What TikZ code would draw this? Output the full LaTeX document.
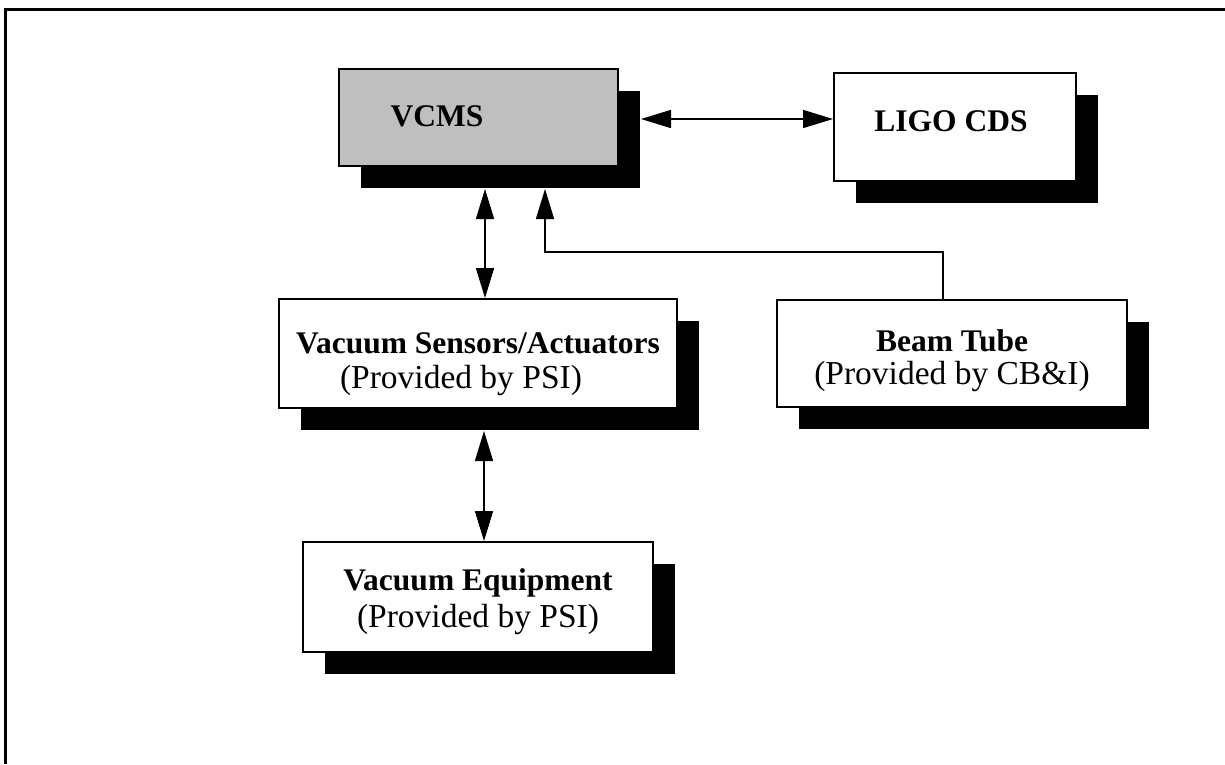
\documentclass[tikz,border=0pt]{standalone}
\usepackage{fontspec}
\setmainfont{Liberation Serif}
\usetikzlibrary{arrows.meta,shadows}
\tikzset{bigtri/.tip={Triangle[length=30pt,width=18pt]}}
\begin{document}
\begin{tikzpicture}[x=1pt,y=-1pt,
  box/.style={draw=black,line width=2pt,fill=white,inner sep=0pt,
    general shadow={fill=black,shadow xshift=22pt,shadow yshift=-22pt}},
  txt/.style={inner sep=0pt,align=center,font=\fontsize{33.5}{35}\selectfont},
  bfnt/.style={font=\fontsize{31.5}{35}\selectfont\bfseries},
  conn/.style={line width=1.6pt}]
\useasboundingbox (0,0) rectangle (1225,764);
% frame
\draw[line width=3pt] (5,764) -- (5,9.5) -- (1225,9.5);
% boxes
\node[box,fill=black!25,minimum width=279pt,minimum height=97pt] (vcms) at (478.5,117.5) {};
\node[box,minimum width=242pt,minimum height=108pt] (ligo) at (955,127) {};
\node[box,minimum width=398pt,minimum height=109pt] (sens) at (478,353.5) {};
\node[box,minimum width=350pt,minimum height=107pt] (bt) at (952,353.5) {};
\node[box,minimum width=350pt,minimum height=110pt] (equip) at (478,597) {};
% texts (shifts in picture units: positive y is downward)
\node[txt,bfnt] (vcmsT) at ([shift={(-41.5,-1)}]vcms.center) {VCMS};
\node[txt,bfnt] (ligoT) at ([shift={(-4,-6)}]ligo.center) {LIGO CDS};
\node[txt] (sensT) at ([shift={(0,11)}]sens.center)
  {{\fontsize{31.5}{35}\selectfont\bfseries Vacuum Sensors/Actuators}\\
   \hspace*{-34pt}(Provided by PSI)};
\node[txt] (btT) at ([shift={(0,7)}]bt.center)
  {{\fontsize{31.5}{35}\selectfont\bfseries Beam Tube}\\[-2pt]
   (Provided by CB\&I)};
\node[txt] (equipT) at ([shift={(0,5)}]equip.center)
  {{\fontsize{31.5}{35}\selectfont\bfseries Vacuum Equipment}\\[2pt]
   (Provided by PSI)};
% connectors
\coordinate (a1) at ([shift={(22,1.5)}]vcms.east);
\draw[conn,bigtri-bigtri] (a1) -- (a1 -| ligo.west);
\coordinate (a2) at ([shift={(6.5,22)}]vcms.south);
\draw[conn,bigtri-bigtri] (a2) -- (a2 |- sens.north);
\coordinate (a3) at ([shift={(6,22)}]sens.south);
\draw[conn,bigtri-bigtri] (a3) -- (a3 |- equip.north);
\coordinate (a4) at ([shift={(66.5,22)}]vcms.south);
\draw[conn,-bigtri] ([xshift=-9pt]bt.north) |- (a4 |- 0,252) -- (a4);
\end{tikzpicture}
\end{document}
